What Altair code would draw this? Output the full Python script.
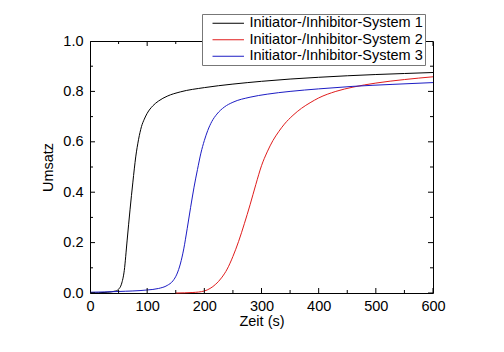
import altair as alt
import pandas as pd

# Data
s1_t = [0, 30, 45, 50, 55, 60, 65, 70, 75, 80, 85, 90, 95, 100, 110, 120, 135, 158, 200, 250, 300, 350, 400, 450, 500, 550, 600]
s1_y = [0.0, 0.003, 0.008, 0.015, 0.035, 0.09, 0.21, 0.33, 0.44, 0.54, 0.61, 0.66, 0.69, 0.713, 0.743, 0.762, 0.781, 0.798, 0.815, 0.829, 0.84, 0.849, 0.856, 0.862, 0.867, 0.871, 0.875]

s2_t = [150, 180, 200, 210, 220, 230, 240, 250, 260, 270, 280, 290, 300, 310, 320, 330, 340, 355, 370, 385, 400, 430, 460, 500, 550, 600]
s2_y = [0.0, 0.002, 0.008, 0.018, 0.035, 0.06, 0.095, 0.145, 0.205, 0.275, 0.35, 0.43, 0.505, 0.56, 0.605, 0.64, 0.67, 0.705, 0.733, 0.755, 0.774, 0.80, 0.817, 0.833, 0.847, 0.858]

s3_t = [0, 50, 100, 120, 135, 145, 152, 158, 164, 170, 176, 182, 188, 194, 200, 206, 213, 222, 235, 250, 280, 310, 350, 400, 460, 530, 600]
s3_y = [0.003, 0.006, 0.012, 0.018, 0.03, 0.048, 0.075, 0.115, 0.175, 0.255, 0.34, 0.42, 0.49, 0.555, 0.605, 0.645, 0.68, 0.71, 0.738, 0.757, 0.777, 0.789, 0.80, 0.81, 0.82, 0.828, 0.835]

names = ["Initiator-/Inhibitor-System 1", "Initiator-/Inhibitor-System 2", "Initiator-/Inhibitor-System 3"]
colors = ["#000000", "#e01c1c", "#1c1cc4"]

x_major = [0, 100, 200, 300, 400, 500, 600]
x_minor = [50, 150, 250, 350, 450, 550]
y_major = [0.0, 0.2, 0.4, 0.6, 0.8, 1.0]
y_minor = [0.1, 0.3, 0.5, 0.7, 0.9]

rows = []
for name, ts, ys in [(names[0], s1_t, s1_y), (names[1], s2_t, s2_y), (names[2], s3_t, s3_y)]:
    for i, (t, y) in enumerate(zip(ts, ys)):
        rows.append({"Zeit": t, "Umsatz": y, "Serie": name, "idx": i})
df = pd.DataFrame(rows)

FONT = "Liberation Sans"
FS = 14.5
xscale = alt.Scale(domain=[0, 600], nice=False, zero=False)
yscale = alt.Scale(domain=[0, 1], nice=False, zero=False)

xaxis = alt.Axis(orient="bottom", values=x_major, format="d", ticks=False, domain=False,
                 grid=False, labelPadding=6, labelFlush=False, title="Zeit (s)", titlePadding=2,
                 labelFont=FONT, labelFontSize=FS, titleFont=FONT, titleFontSize=FS,
                 titleFontWeight="normal", labelColor="black", titleColor="black")
yaxis = alt.Axis(orient="left", values=y_major, format=".1f", ticks=False, domain=False,
                 grid=False, labelPadding=7, labelFlush=False, title="Umsatz", titlePadding=7,
                 labelFont=FONT, labelFontSize=FS, titleFont=FONT, titleFontSize=FS,
                 titleFontWeight="normal", labelColor="black", titleColor="black")

main = alt.Chart(df).mark_line(strokeWidth=1, interpolate="monotone").encode(
    x=alt.X("Zeit:Q", scale=xscale, axis=xaxis),
    y=alt.Y("Umsatz:Q", scale=yscale, axis=yaxis),
    color=alt.Color("Serie:N", scale=alt.Scale(domain=names, range=colors),
                    legend=alt.Legend(title=None, orient="none", legendX=112, legendY=-27,
                                      symbolType="M-3,0H3", symbolSize=110, symbolStrokeWidth=1,
                                      symbolOffset=17, labelOffset=14, padding=2, rowPadding=1.5,
                                      labelFont=FONT, labelFontSize=FS, labelColor="black",
                                      strokeColor="#777777", fillColor="white", labelLimit=400)),
    order="idx:Q",
)


def xticks(vals, at, length):
    return alt.Chart(pd.DataFrame({"Zeit": vals})).mark_tick(
        orient="vertical", size=2 * length, thickness=1, clip=True, color="black", opacity=1
    ).encode(x=alt.X("Zeit:Q", scale=xscale, axis=xaxis),
             y=alt.Y(datum=at, type="quantitative", scale=yscale, axis=yaxis))


def yticks(vals, at, length):
    return alt.Chart(pd.DataFrame({"Umsatz": vals})).mark_tick(
        orient="horizontal", size=2 * length, thickness=1, clip=True, color="black", opacity=1
    ).encode(y=alt.Y("Umsatz:Q", scale=yscale, axis=yaxis),
             x=alt.X(datum=at, type="quantitative", scale=xscale, axis=xaxis))


chart = alt.layer(
    main,
    xticks(x_major, 0, 5), xticks(x_minor, 0, 3),
    xticks(x_major, 1, 5), xticks(x_minor, 1, 3),
    yticks(y_major, 0, 5), yticks(y_minor, 0, 3),
    yticks(y_major, 600, 5), yticks(y_minor, 600, 3),
).properties(
    width=343, height=252,
    autosize=alt.AutoSizeParams(type="none"),
    padding={"left": 90, "top": 41, "right": 71, "bottom": 59},
    background="white",
).configure_view(stroke="black", strokeWidth=1)

chart.save("out.html", embed_options={"renderer": "svg", "actions": False})
